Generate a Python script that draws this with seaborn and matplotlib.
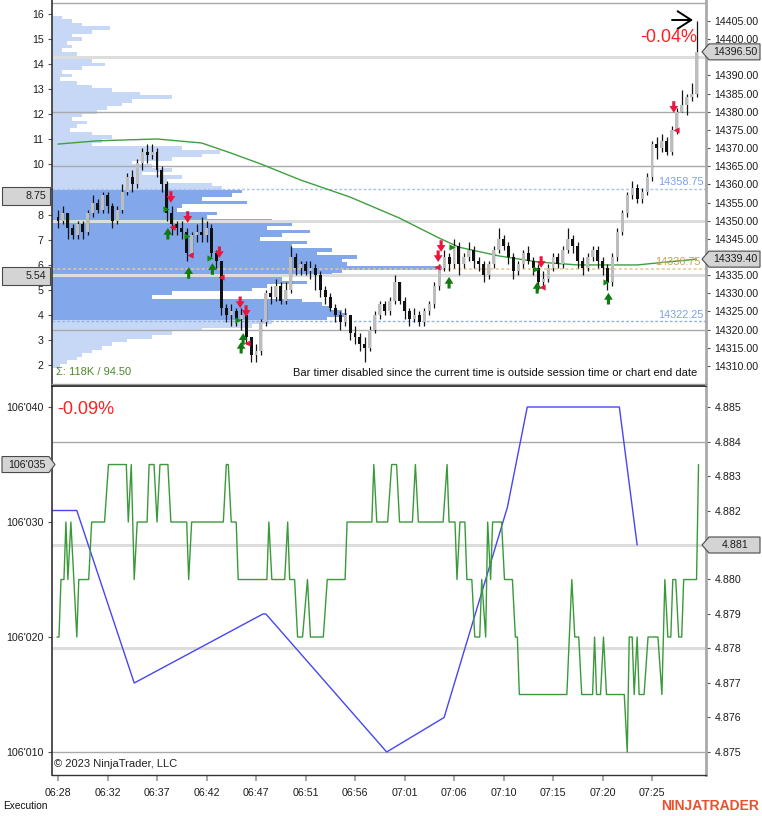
import numpy as np
import matplotlib
matplotlib.use('Agg')
import matplotlib.pyplot as plt
import matplotlib.ticker as mticker
from matplotlib.patches import Polygon
from matplotlib.transforms import IdentityTransform
import seaborn as sns

sns.set_theme(style='white')
plt.rcParams['font.family'] = ['Liberation Sans', 'DejaVu Sans']

# ---------------- data ----------------
time_labels = ['06:28', '06:32', '06:37', '06:42', '06:47', '06:51', '06:56',
               '07:01', '07:06', '07:10', '07:15', '07:20', '07:25']
time_slots = [0, 50, 100, 150, 200, 250, 300, 350, 400, 450, 500, 550, 600]

first_open = 14351
closes = [14350, 14352, 14348, 14346, 14349, 14347, 14352, 14355, 14353, 14357,
          14354, 14350, 14353, 14358, 14362, 14360, 14366, 14369, 14368, 14369,
          14364, 14360, 14352, 14349, 14348, 14347, 14341, 14346, 14347, 14346,
          14348, 14341, 14339, 14326, 14324, 14325, 14323, 14324, 14318, 14313,
          14314, 14322, 14330, 14329, 14332, 14328, 14331, 14340, 14337, 14338,
          14336, 14337, 14335, 14331, 14329, 14326, 14324, 14322, 14324, 14319,
          14318, 14316, 14315, 14320, 14324, 14327, 14325, 14328, 14333, 14328,
          14325, 14323, 14324, 14322, 14325, 14327, 14332, 14337, 14340, 14338,
          14343, 14338, 14340, 14342, 14339, 14338, 14335, 14338, 14342, 14345,
          14343, 14340, 14336, 14338, 14341, 14339, 14337, 14333, 14334, 14337,
          14340, 14338, 14342, 14345, 14343, 14339, 14337, 14340, 14342, 14339,
          14337, 14333, 14340, 14347, 14352, 14357, 14359, 14356, 14358, 14362,
          14371, 14370, 14372, 14369, 14375, 14380, 14382, 14384, 14385, 14396.5]
highs = [14353, 14354, 14352, 14349, 14350, 14350, 14353, 14357, 14356, 14358,
         14358, 14355, 14354, 14360, 14363, 14364, 14367, 14370, 14371, 14371,
         14370, 14365, 14361, 14354, 14350, 14350, 14348, 14347, 14349, 14351,
         14350, 14349, 14342, 14339, 14327, 14327, 14326, 14326, 14324, 14318,
         14316, 14323, 14331, 14332, 14334, 14333, 14333, 14343, 14341, 14339,
         14339, 14339, 14338, 14336, 14332, 14330, 14327, 14325, 14326, 14324,
         14321, 14319, 14318, 14321, 14325, 14328, 14328, 14329, 14335, 14333,
         14329, 14326, 14326, 14325, 14326, 14328, 14333, 14338, 14342, 14341,
         14345, 14344, 14341, 14344, 14343, 14340, 14339, 14339, 14343, 14348,
         14346, 14344, 14341, 14339, 14342, 14343, 14340, 14338, 14336, 14338,
         14341, 14341, 14343, 14348, 14346, 14344, 14340, 14341, 14343, 14343,
         14340, 14338, 14341, 14348, 14353, 14358, 14361, 14360, 14359, 14363,
         14372, 14373, 14374, 14373, 14376, 14381, 14386, 14385, 14388, 14405]
lows = [14348, 14349, 14345, 14345, 14345, 14345, 14346, 14351, 14352, 14352,
        14352, 14348, 14349, 14352, 14357, 14358, 14359, 14364, 14366, 14367,
        14362, 14358, 14350, 14346, 14346, 14345, 14339, 14340, 14344, 14344,
        14344, 14340, 14337, 14324, 14322, 14321, 14321, 14320, 14316, 14311,
        14311, 14313, 14321, 14327, 14328, 14327, 14327, 14330, 14335, 14335,
        14335, 14334, 14331, 14329, 14327, 14325, 14322, 14320, 14321, 14317,
        14316, 14314, 14311, 14314, 14319, 14323, 14324, 14324, 14327, 14327,
        14323, 14321, 14322, 14321, 14321, 14324, 14326, 14331, 14336, 14336,
        14337, 14335, 14337, 14339, 14337, 14336, 14333, 14334, 14337, 14341,
        14342, 14338, 14334, 14335, 14337, 14338, 14335, 14331, 14332, 14333,
        14336, 14337, 14337, 14341, 14341, 14337, 14335, 14336, 14339, 14337,
        14335, 14331, 14332, 14339, 14346, 14351, 14356, 14355, 14355, 14357,
        14361, 14367, 14369, 14368, 14368, 14374, 14380, 14379, 14383, 14384]
bar_slots = [5 * i for i in range(len(closes))]

sma_bars = [0, 8, 20, 29, 35, 41, 49, 59, 69, 77, 81, 89, 97, 105, 117, 129]
sma_vals = [14371.1, 14372.0, 14372.5, 14371.4, 14368.6, 14365.6, 14361.2, 14356.5,
            14350.7, 14345.2, 14342.7, 14340.3, 14338.6, 14337.8, 14337.8, 14339.4]
sma_slots = [b * 5 for b in sma_bars]

prof_prices = list(range(14406, 14309, -1))
prof_vols = [10, 20, 30, 58, 40, 20, 30, 15, 20, 10,
             25, 12, 40, 53, 30, 10, 20, 8, 25, 40,
             60, 88, 120, 80, 70, 55, 45, 30, 20, 35,
             25, 18, 40, 60, 50, 40, 130, 168, 150, 120,
             80, 100, 120, 90, 130, 115, 160, 170, 190, 180,
             150, 195, 130, 125, 165, 155, 220, 240, 215, 258,
             230, 208, 255, 240, 280, 265, 305, 290, 295, 390,
             290, 280, 230, 255, 215, 200, 120, 100, 250, 270,
             278, 290, 295, 275, 220, 200, 150, 120, 100, 75,
             60, 50, 40, 30, 25, 15, 8]
va_high, va_low, poc = 14358.75, 14322.25, 14336.75

sell_slots = [114, 131, 163, 184, 190, 384, 387, 488, 622]
sell_tips = [14354.9, 14349.4, 14339.7, 14325.9, 14323.5, 14338.6, 14341.4, 14337.0, 14379.7]
buy_slots = [111, 132, 156, 185, 187, 395, 484, 556]
buy_tips = [14348.0, 14337.2, 14338.3, 14316.6, 14319.0, 14334.5, 14333.1, 14330.1]
entry_slots = [109, 130, 154, 182, 398, 483, 554]
entry_prices = [14353.2, 14345.8, 14339.7, 14322.6, 14342.7, 14336.7, 14333.1]
exit_slots = [115, 133, 165, 191, 383, 489, 624]
exit_prices = [14348.3, 14340.5, 14334.5, 14316.3, 14337.2, 14331.7, 14375.0]

green_x = [-1, 1, 3, 6, 8, 10, 13, 16, 19, 21, 31, 34, 47, 51, 69, 71, 74, 77, 80, 90,
           92, 97, 100, 103, 111, 114, 130, 132, 135, 167, 170, 172, 175, 180, 182, 211,
           213, 216, 229, 232, 234, 239, 242, 247, 252, 255, 268, 272, 290, 292, 317,
           319, 322, 333, 337, 342, 345, 358, 361, 364, 389, 393, 395, 401, 403, 406,
           411, 413, 418, 421, 426, 428, 432, 434, 437, 439, 448, 451, 459, 462, 464,
           466, 514, 519, 522, 526, 529, 540, 542, 544, 548, 551, 554, 572, 575, 577,
           580, 582, 585, 587, 592, 596, 606, 610, 613, 616, 619, 621, 624, 627, 630,
           632, 645, 647]
green_v = [106020, 106020, 106025, 106025, 106030, 106025, 106030, 106025, 106020, 106025,
           106025, 106030, 106030, 106035, 106035, 106030, 106035, 106025, 106030, 106030,
           106035, 106035, 106030, 106035, 106035, 106030, 106030, 106025, 106030, 106030,
           106035, 106035, 106030, 106030, 106025, 106025, 106030, 106025, 106025, 106030,
           106025, 106025, 106020, 106020, 106025, 106020, 106020, 106025, 106025, 106030,
           106030, 106035, 106030, 106030, 106035, 106035, 106030, 106030, 106035, 106030,
           106030, 106035, 106030, 106030, 106025, 106030, 106030, 106025, 106025, 106020,
           106020, 106025, 106020, 106030, 106025, 106030, 106030, 106025, 106025, 106020,
           106020, 106015, 106015, 106025, 106020, 106020, 106015, 106015, 106020, 106015,
           106015, 106020, 106015, 106015, 106010, 106020, 106020, 106015, 106020, 106015,
           106015, 106020, 106020, 106015, 106025, 106020, 106020, 106025, 106025, 106020,
           106020, 106025, 106025, 106035]
blue_x = [-6, 19, 77, 207, 210, 332, 390, 454, 474, 567, 585]
blue_v = [4.8820, 4.8820, 4.8770, 4.8790, 4.8790, 4.8750, 4.8760, 4.8821, 4.8850, 4.8850, 4.8810]

grid_top_dark = [14320, 14365, 14380, 14410]
grid_top_light = [14335, 14350, 14395]
grid_bot_dark = [4.875, 4.884]
grid_bot_light = [4.878, 4.881]

top_right_ticks = [14310, 14315, 14320, 14325, 14330, 14335, 14340, 14345, 14350, 14355,
                   14360, 14365, 14370, 14375, 14380, 14385, 14390, 14395, 14400, 14405]
top_right_hidden = [14395]
top_left_ticks = [2, 3, 4, 5, 6, 7, 8, 9, 10, 11, 12, 13, 14, 15, 16]
top_left_hidden = [9]
bot_left_ticks = [106010, 106020, 106030, 106040]
bot_right_ticks = [4.875, 4.876, 4.877, 4.878, 4.879, 4.880, 4.881, 4.882, 4.883, 4.884, 4.885]
bot_right_hidden = [4.881]

# ---------------- layout ----------------
W, H = 762, 816
fig = plt.figure(figsize=(W / 100, H / 100), dpi=100)
fig.patch.set_facecolor('white')


def fx(x):
    return x / W


def fy(y):
    return 1 - y / H


L, R = 52, 706
T1, B1 = 0, 384
T2, B2 = 386, 775
ax = fig.add_axes([fx(L), fy(B1), (R - L) / W, (B1 - T1) / H])
axb = fig.add_axes([fx(L), fy(B2), (R - L) / W, (B2 - T2) / H], sharex=ax)

xmin, xmax = (L - 58) / 0.99, (R - 58) / 0.99
ax.set_xlim(xmin, xmax)

TICK_FS = 7.7
TXT = '#1e1e1e'


def hide_fmt(fmt, hidden):
    def f(v, p):
        for h in hidden:
            if abs(v - h) < 1e-6:
                return ''
        return fmt(v)
    return mticker.FuncFormatter(f)


# ---- top panel ----
axp = ax.twiny()
axl = ax.twinx()
axp.set_xlim(0, R - L)
ax.set_ylim(14305.0, 14410.79)
axl.set_ylim(1.242, 16.558)
axp.set_zorder(1)
axl.set_zorder(2)
ax.set_zorder(3)
ax.patch.set_visible(False)
axp.patch.set_visible(False)
axl.patch.set_visible(False)

light_blue, dark_blue = '#c7d8f6', '#82a7ea'
pcolors = [dark_blue if va_low <= p <= va_high else light_blue for p in prof_prices]
axp.barh(prof_prices, prof_vols, height=1.0, left=0, color=pcolors, linewidth=0)
axp.axis('off')

for g in grid_top_light:
    ax.axhline(g, color='#dddddd', lw=2.2, zorder=1)
for g in grid_top_dark:
    ax.axhline(g, color='#a9a9a9', lw=1.0, zorder=1)
ax.axhline(va_high, color='#a9c1f2', lw=1.0, ls=(0, (2, 1.5)), zorder=1.2)
ax.axhline(va_low, color='#8fb0ee', lw=1.0, ls=(0, (2, 1.5)), zorder=1.2)
ax.axhline(poc, color='#e6c88e', lw=1.1, ls=(0, (2, 1.5)), zorder=1.2)

sns.lineplot(x=sma_slots, y=sma_vals, ax=ax, color='#3f9f3f', linewidth=1.0,
             estimator=None, sort=False, zorder=2)

opens = [first_open] + closes[:-1]
ax.vlines(bar_slots, lows, highs, color='#151515', lw=0.9, zorder=3)
bodies_b = [min(o, c) for o, c in zip(opens, closes)]
bodies_h = [max(abs(c - o), 0.3) for o, c in zip(opens, closes)]
bcols = ['#bdbdbd' if c >= o else '#111111' for o, c in zip(opens, closes)]
ax.bar(bar_slots, bodies_h, bottom=bodies_b, width=3.0, color=bcols, linewidth=0, zorder=4)

alen = 3.2
arrow_style = 'simple,head_width=0.9,head_length=0.7,tail_width=0.32'
for s, p in zip(sell_slots, sell_tips):
    ax.annotate('', xy=(s, p), xytext=(s, p + alen),
                arrowprops=dict(arrowstyle=arrow_style, color='#e8163c', lw=0,
                                shrinkA=0, shrinkB=0, mutation_scale=7), zorder=6)
for s, p in zip(buy_slots, buy_tips):
    ax.annotate('', xy=(s, p), xytext=(s, p - alen),
                arrowprops=dict(arrowstyle=arrow_style, color='#107a10', lw=0,
                                shrinkA=0, shrinkB=0, mutation_scale=7), zorder=6)
ax.scatter(entry_slots, entry_prices, marker='>', s=20, color='#138a13', linewidths=0, zorder=6)
ax.scatter(exit_slots, exit_prices, marker='<', s=20, color='#e8163c', linewidths=0, zorder=6)

ax.set_xlabel('')
ax.set_ylabel('')
ax.yaxis.tick_right()
ax.set_yticks(top_right_ticks)
ax.yaxis.set_major_formatter(hide_fmt(lambda v: f'{v:.2f}', top_right_hidden))
ax.tick_params(axis='y', which='major', right=True, left=False, labelright=True,
               labelleft=False, length=3, width=0.8, color='#555555',
               labelsize=TICK_FS, labelcolor=TXT, pad=3)
ax.tick_params(axis='x', bottom=False, labelbottom=False, top=False, labeltop=False)
axl.yaxis.tick_left()
axl.set_yticks(top_left_ticks)
axl.yaxis.set_major_formatter(hide_fmt(lambda v: f'{v:.0f}', top_left_hidden))
axl.tick_params(axis='y', left=True, right=False, labelleft=True, labelright=False,
                length=3, width=0.8, color='#555555', labelsize=TICK_FS,
                labelcolor=TXT, pad=3)
axl.set_ylabel('')
for a in (ax, axl, axp):
    for sp in a.spines.values():
        sp.set_visible(False)
ax.spines['left'].set_visible(True)
ax.spines['left'].set_color('#333333')
ax.spines['left'].set_linewidth(1.2)
ax.spines['right'].set_visible(True)
ax.spines['right'].set_color('#aaaaaa')
ax.spines['right'].set_linewidth(2.0)
ax.spines['bottom'].set_visible(True)
ax.spines['bottom'].set_color('#999999')
ax.spines['bottom'].set_linewidth(1.0)

# ---- bottom panel ----
axr = axb.twinx()
axb.set_ylim(106008.0, 106041.83)
axr.set_ylim(4.874333, 4.885609)
axr.set_zorder(1)
axb.set_zorder(2)
axb.patch.set_visible(False)
for g in grid_bot_light:
    axr.axhline(g, color='#dddddd', lw=2.2, zorder=1)
for g in grid_bot_dark:
    axr.axhline(g, color='#a9a9a9', lw=1.0, zorder=1)
sns.lineplot(x=blue_x, y=blue_v, ax=axr, color='#4646f5', linewidth=1.0,
             estimator=None, sort=False, zorder=3)
sns.lineplot(x=green_x, y=green_v, ax=axb, color='#3a9a3a', linewidth=1.0,
             estimator=None, sort=False, zorder=3)
axb.set_xlim(xmin, xmax)

axb.set_yticks(bot_left_ticks)
axb.yaxis.set_major_formatter(mticker.FuncFormatter(
    lambda v, p: f"{int(round(v)) // 1000}'{int(round(v)) % 1000:03d}"))
axb.tick_params(axis='y', left=True, right=False, labelleft=True, labelright=False,
                length=3, width=0.8, color='#555555', labelsize=TICK_FS, labelcolor=TXT, pad=3)
axr.set_yticks(bot_right_ticks)
axr.yaxis.set_major_formatter(hide_fmt(lambda v: f'{v:.3f}', bot_right_hidden))
axr.tick_params(axis='y', right=True, left=False, labelright=True, labelleft=False,
                length=3, width=0.8, color='#555555', labelsize=TICK_FS, labelcolor=TXT, pad=3)
axb.set_xticks(time_slots)
axb.set_xticklabels(time_labels)
axb.tick_params(axis='x', bottom=True, length=4, width=1.5, color='#aaaaaa',
                labelsize=TICK_FS, labelcolor=TXT, pad=5)
axb.set_xlabel('')
axb.set_ylabel('')
axr.set_ylabel('')
axr.set_xlabel('')
for a in (axb, axr):
    for sp in a.spines.values():
        sp.set_visible(False)
axb.spines['left'].set_visible(True)
axb.spines['left'].set_color('#333333')
axb.spines['left'].set_linewidth(1.2)
axb.spines['top'].set_visible(True)
axb.spines['top'].set_color('#111111')
axb.spines['top'].set_linewidth(1.2)
axb.spines['bottom'].set_visible(True)
axb.spines['bottom'].set_color('#333333')
axb.spines['bottom'].set_linewidth(1.0)
axb.spines['right'].set_visible(True)
axb.spines['right'].set_color('#aaaaaa')
axb.spines['right'].set_linewidth(2.0)

# ---------------- labels & texts ----------------
def px_text(x, y, s, **kw):
    fig.text(fx(x), fy(y), s, **kw)


px_text(56, 372, 'Σ: 118K / 94.50', color='#4a8a2a', fontsize=8.0, va='center', ha='left')
px_text(697, 373, 'Bar timer disabled since the current time is outside session time or chart end date',
        color='#111111', fontsize=8.0, va='center', ha='right')
px_text(697, 38, '-0.04%', color='#ff1f1f', fontsize=13, va='center', ha='right')
px_text(57, 410, '-0.09%', color='#ff1f1f', fontsize=13, va='center', ha='left')
px_text(704, 182, '14358.75', color='#7b9ff0', fontsize=7.8, va='center', ha='right')
px_text(704, 315, '14322.25', color='#7b9ff0', fontsize=7.8, va='center', ha='right')
px_text(701, 262, '14336.75', color='#c9a24d', fontsize=7.8, va='center', ha='right')
px_text(54, 764, '© 2023 NinjaTrader, LLC', color='#222222', fontsize=8.0, va='center', ha='left')
px_text(3, 806, 'Execution', color='#111111', fontsize=7.3, va='center', ha='left')
px_text(759, 806, 'NINJATRADER', color='#e8502e', fontsize=10, fontweight='bold',
        va='center', ha='right')

ax.annotate('', xy=(fx(693), fy(20)), xytext=(fx(672), fy(20)),
            xycoords='figure fraction', textcoords='figure fraction',
            arrowprops=dict(arrowstyle='->,head_width=0.45,head_length=0.7', color='black',
                            lw=1.4, shrinkA=0, shrinkB=0, mutation_scale=14),
            annotation_clip=False)


def ydisp(a, v):
    return a.transData.transform((0, v))[1]


def right_box(a, v, label):
    yc = ydisp(a, v)
    pts = [(702, yc), (709, yc + 8), (760, yc + 8), (760, yc - 8), (709, yc - 8)]
    fig.add_artist(Polygon(pts, closed=True, facecolor='#d4d4d4', edgecolor='#4a4a4a',
                           lw=0.8, transform=IdentityTransform(), zorder=20))
    fig.text(735 / W, yc / H, label, fontsize=TICK_FS, color=TXT, ha='center',
             va='center', zorder=21)


def left_box(a, v, label, tip=False):
    yc = ydisp(a, v)
    if tip:
        pts = [(2, yc + 8), (49, yc + 8), (55, yc), (49, yc - 8), (2, yc - 8)]
    else:
        pts = [(2, yc + 9), (50, yc + 9), (50, yc - 9), (2, yc - 9)]
    fig.add_artist(Polygon(pts, closed=True, facecolor='#d4d4d4', edgecolor='#4a4a4a',
                           lw=0.8, transform=IdentityTransform(), zorder=20))
    fig.text(46 / W, yc / H, label, fontsize=TICK_FS, color=TXT, ha='right',
             va='center', zorder=21)


right_box(ax, 14396.5, '14396.50')
right_box(ax, 14339.4, '14339.40')
left_box(axl, 8.75, '8.75')
left_box(axl, 5.54, '5.54')
left_box(axb, 106035, "106'035", tip=True)
right_box(axr, 4.881, '4.881')

fig.savefig('out.png', dpi=100, facecolor='white')
